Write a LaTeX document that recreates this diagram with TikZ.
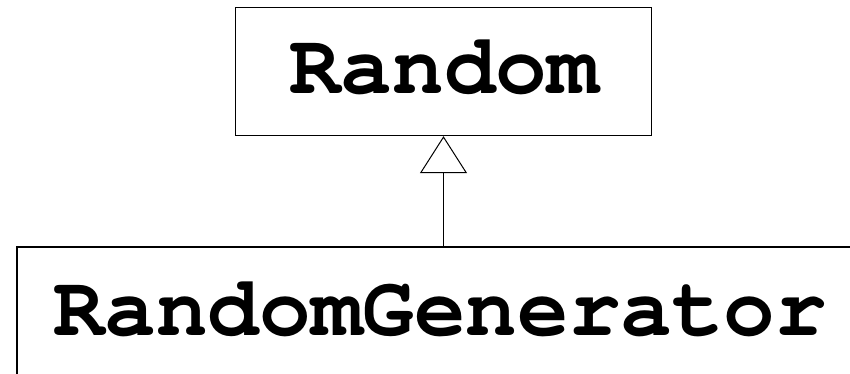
\documentclass[tikz,border=0pt]{standalone}
\usepackage{fontspec}
\setmonofont{texgyrecursor-regular.otf}[BoldFont=texgyrecursor-bold.otf]
\usetikzlibrary{arrows.meta}
\begin{document}
\begin{tikzpicture}[x=1pt,y=1pt,
  classbox/.style={draw, inner sep=0pt},
  classname/.style={font=\ttfamily\bfseries\fontsize{86}{100}\selectfont, inner sep=0pt},
  inherit/.style={-{Triangle[open,length=37pt,width=47pt]}, line width=1pt}]
\useasboundingbox (0,0) rectangle (850,374);
\clip (0,0) rectangle (850,374);
\node[classbox, line width=1.3pt, minimum width=416pt, minimum height=128pt] (random) at (443.5,302.5) {};
\node[classname, anchor=base] (randomtxt) at (444,280) {Random};
\node[classbox, line width=2pt, minimum width=846pt, minimum height=128pt] (gen) at (440,63) {};
\node[classname, anchor=base] (gentxt) at (440,38) {RandomGenerator};
\draw[inherit] (random.south |- gen.north) -- (random.south);
\end{tikzpicture}
\end{document}
